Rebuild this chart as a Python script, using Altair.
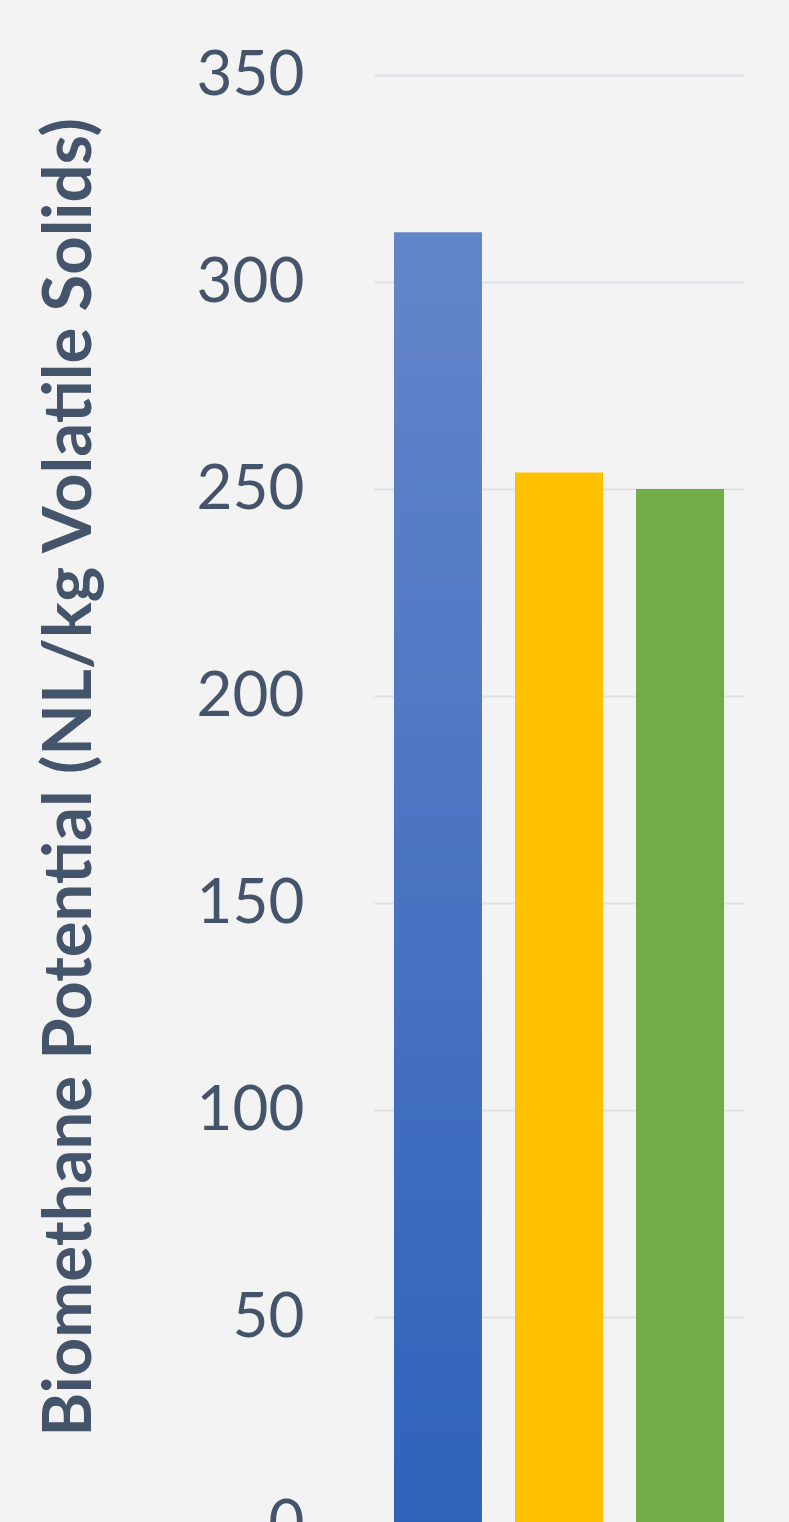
import altair as alt
import pandas as pd

categories = ["Sample A", "Sample B", "Sample C"]
values = [312, 254, 250]
colors = ["#4a74c4", "#ffc000", "#70ad47"]
y_ticks = [0, 50, 100, 150, 200, 250, 300, 350]

df = pd.DataFrame({"category": categories, "value": values, "color": colors})

text_color = "#44546a"

x_enc = alt.X("category:N", sort=categories,
              scale=alt.Scale(paddingInner=0.273, paddingOuter=0.165),
              axis=None)
y_enc = alt.Y("value:Q",
              scale=alt.Scale(domain=[0, 350], nice=False),
              axis=alt.Axis(values=y_ticks,
                            title="Biomethane Potential (NL/kg Volatile Solids)",
                            titleFont="Lato", titleFontSize=67, titleFontWeight="bold",
                            titleColor=text_color,
                            titleAngle=-90, titleAlign="center", titleBaseline="middle",
                            titleX=-304, titleY=702,
                            labelFont="Lato", labelFontSize=62, labelColor=text_color,
                            labelPadding=70, ticks=False, domain=False,
                            gridColor="#dde2e8", gridWidth=2))

gradient = alt.LinearGradient(
    gradient="linear",
    stops=[alt.GradientStop(color="#6385ca", offset=0),
           alt.GradientStop(color="#2f62b9", offset=1)],
    x1=0, x2=0, y1=0, y2=1)

blue = alt.Chart(df).transform_filter(
    alt.datum.category == categories[0]
).mark_bar(color=gradient).encode(x=x_enc, y=y_enc)

others = alt.Chart(df).transform_filter(
    alt.datum.category != categories[0]
).mark_bar().encode(x=x_enc, y=y_enc,
                    color=alt.Color("color:N", scale=None))

chart = alt.layer(blue, others).properties(
    width=370, height=1449,
    background="#f3f3f3",
    padding={"left": 374, "top": 75, "right": 45, "bottom": 40},
    autosize=alt.AutoSizeParams(type="none"),
).configure_view(stroke=None)

chart.save("out.html", embed_options={"renderer": "svg", "actions": False})
